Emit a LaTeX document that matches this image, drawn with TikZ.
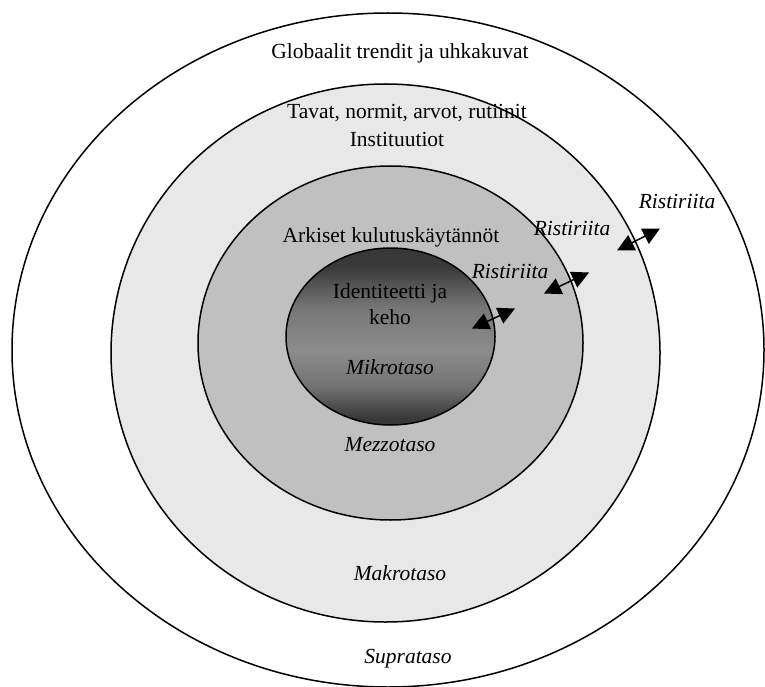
\documentclass[tikz,border=0pt]{standalone}
\usepackage{fontspec}
\setmainfont{Liberation Serif}
\usetikzlibrary{arrows.meta}

\definecolor{macrogray}{RGB}{232,232,232}
\definecolor{mezzogray}{RGB}{192,192,192}
\definecolor{microdark}{RGB}{56,56,56}
\definecolor{microlight}{RGB}{140,140,140}

% dark-light-dark fill for the innermost level (path spans 25bp..75bp)
\pgfdeclareverticalshading{microfill}{100bp}{%
  color(0bp)=(microdark); color(27bp)=(microdark);
  color(36bp)=(microlight!70!microdark); color(46bp)=(microlight);
  color(58bp)=(microlight!75!microdark);
  color(70bp)=(microdark); color(100bp)=(microdark)}

\tikzset{
  ring/.style={draw=black, line width=1.5pt},
  lbl/.style={inner sep=0pt, font=\fontsize{21.5}{25}\selectfont},
  lvl/.style={inner sep=0pt, font=\fontsize{21.5}{25}\selectfont\itshape},
  conflict/.style={line width=1.5pt, {Triangle[length=17pt,width=17pt]}-{Triangle[length=17pt,width=17pt]}}
}

\begin{document}
\begin{tikzpicture}[x=1pt, y=-1pt]
  \useasboundingbox (0,0) rectangle (765,687);
  \clip (0,0) rectangle (765,687);
  \fill[white] (0,0) rectangle (765,687);

  % nested levels, outermost first
  \draw[ring, fill=white] (388,350) ellipse [x radius=376, y radius=337];
  \draw[ring, fill=macrogray] (385.5,353) ellipse [x radius=274.5, y radius=269];
  \draw[ring, fill=mezzogray] (390.5,343) ellipse [x radius=192.5, y radius=177];
  \shade[shading=microfill] (390.5,336.5) ellipse [x radius=104.5, y radius=88.5];
  \draw[ring] (390.5,336.5) ellipse [x radius=104.5, y radius=88.5];

  % texts of each level
  \node[lbl] (glob) at (400,53) {Globaalit trendit ja uhkakuvat};
  \node[lbl] (tavat) at (407,113) {Tavat, normit, arvot, rutiinit};
  \node[lbl] (inst) at (397,139) {Instituutiot};
  \node[lbl] (ark) at (391,237) {Arkiset kulutuskäytännöt};
  \node[lbl] (ident) at (390,293) {Identiteetti ja};
  \node[lbl] (keho) at (390,317) {keho};

  \node[lvl] (mikro) at (390,367) {Mikrotaso};
  \node[lvl] (mezzo) at (390,445) {Mezzotaso};
  \node[lvl] (makro) at (400,573) {Makrotaso};
  \node[lvl] (supra) at (408,659) {Suprataso};

  \node[lvl] (r1) at (510,271) {Ristiriita};
  \node[lvl] (r2) at (572,228) {Ristiriita};
  \node[lvl] (r3) at (677,201) {Ristiriita};

  % conflict arrows across the boundaries
  \coordinate (a1) at (472,328.5);
  \coordinate (b1) at (515,308.5);
  \coordinate (a2) at (544,293.5);
  \coordinate (b2) at (589,272.5);
  \coordinate (a3) at (617,250.5);
  \coordinate (b3) at (660,228.5);
  \draw[conflict] (a1) -- (b1);
  \draw[conflict] (a2) -- (b2);
  \draw[conflict] (a3) -- (b3);
\end{tikzpicture}
\end{document}
